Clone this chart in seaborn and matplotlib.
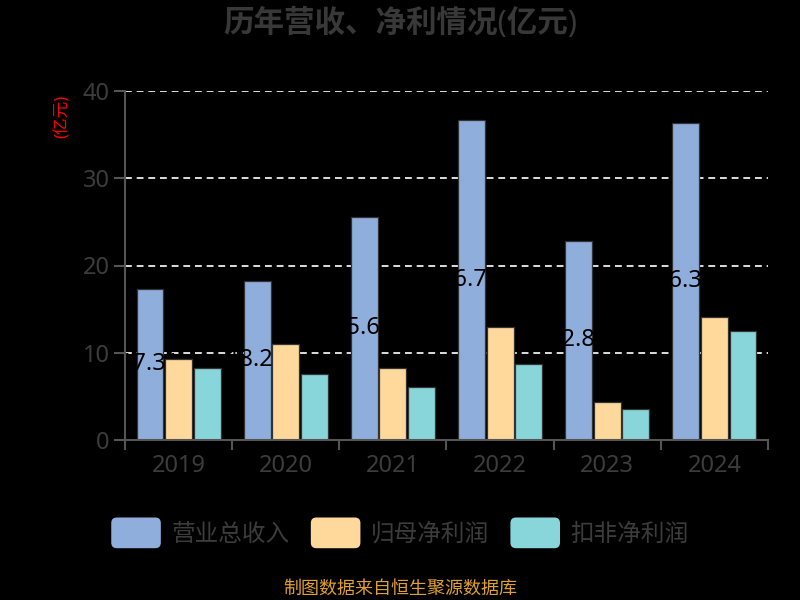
import pandas as pd
import matplotlib
matplotlib.use("Agg")
import matplotlib.pyplot as plt
import matplotlib.patches as mpatches
from matplotlib.legend_handler import HandlerPatch
import seaborn as sns

# data (亿元)
years = ['2019', '2020', '2021', '2022', '2023', '2024']
revenue = [17.31, 18.23, 25.60, 36.72, 22.85, 36.38]
net_profit = [9.33, 10.97, 8.22, 12.92, 4.40, 14.07]
deducted_profit = [8.30, 7.54, 6.09, 8.76, 3.60, 12.46]
series_names = ['营业总收入', '归母净利润', '扣非净利润']
colors = ['#8FAEDC', '#FFD99B', '#88D6DA']

df = pd.DataFrame({'year': years,
                   series_names[0]: revenue,
                   series_names[1]: net_profit,
                   series_names[2]: deducted_profit})
long_df = df.melt(id_vars='year', var_name='series', value_name='value')

sns.set_style('dark')
plt.rcParams['font.family'] = ['Noto Sans', 'Noto Sans CJK SC', 'DejaVu Sans']

fig = plt.figure(figsize=(8, 6), dpi=100, facecolor='black')
ax = fig.add_axes([125/800, 160/600, 643/800, 349/600])
ax.set_facecolor('black')

sns.barplot(data=long_df, x='year', y='value', hue='series', order=years,
            hue_order=series_names, palette=colors, saturation=1, gap=0.06,
            edgecolor='#333333', linewidth=0.9, ax=ax, legend=True)

# revenue bars lowest, then their labels, then the other two series
for i, cont in enumerate(ax.containers):
    for p in cont:
        p.set_zorder(3 if i == 0 else 4)
ax.bar_label(ax.containers[0], labels=['%.2f' % v for v in revenue],
             label_type='center', color='black', fontsize=17, zorder=3.5)

ax.set_xlim(-0.5, len(years) - 0.5)
ax.set_ylim(0, 40)
ax.set_yticks([0, 10, 20, 30, 40])
ax.set_xlabel('')
ax.set_ylabel('')

ax.set_axisbelow(True)
ax.yaxis.grid(True, color='#dddddd', linewidth=1.4, linestyle=(0, (3.5, 2.5)))
ax.xaxis.grid(False)

for s in ['top', 'right']:
    ax.spines[s].set_visible(False)
for s in ['left', 'bottom']:
    ax.spines[s].set_visible(True)
    ax.spines[s].set_color('#555555')
    ax.spines[s].set_linewidth(1.5)
    ax.spines[s].set_zorder(5)

ax.tick_params(axis='y', colors='#3c3c3c', labelsize=17, length=8, width=1.5,
               color='#555555', left=True, pad=3)
ax.tick_params(axis='x', colors='#3c3c3c', labelsize=17, length=0, pad=10)
ax.set_xticks([i - 0.5 for i in range(len(years) + 1)], minor=True)
ax.tick_params(axis='x', which='minor', length=7, width=1.5, color='#555555',
               bottom=True)


class RoundBox(HandlerPatch):
    def create_artists(self, legend, orig_handle, xdescent, ydescent,
                       width, height, fontsize, trans):
        p = mpatches.FancyBboxPatch((-xdescent, -ydescent - 4), width, height + 8,
                                    boxstyle='round,pad=0,rounding_size=4',
                                    fc=orig_handle.get_facecolor(), ec='none',
                                    transform=trans)
        return [p]


handles, labels = ax.get_legend_handles_labels()
ax.legend_.remove()
fig.legend(handles, labels, loc='center', bbox_to_anchor=(0.5, 1 - 535/600),
           ncol=3, frameon=False, fontsize=17, labelcolor='#3c3c3c',
           handlelength=2.1, handleheight=0.9, handletextpad=0.45,
           columnspacing=0.9, handler_map={type(handles[0]): RoundBox()})

fig.text(0.5, 1 - 23/600, '历年营收、净利情况(亿元)', ha='center', va='center',
         fontsize=22, fontweight='bold', color='#383838')
fig.text(63/800, 1 - 116/600, '(亿元)', rotation=90, ha='center', va='center',
         fontsize=12, color='red')
fig.text(0.5, 1 - 589/600, '制图数据来自恒生聚源数据库', ha='center', va='center',
         fontsize=13, color='#E0A030')

fig.savefig('out.png', dpi=100, facecolor='black')
